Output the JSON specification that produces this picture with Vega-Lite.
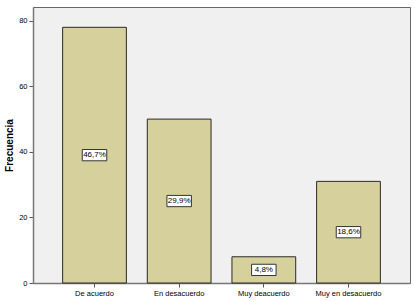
{
  "$schema": "https://vega.github.io/schema/vega-lite/v6.json",
  "autosize": "none",
  "width": 377,
  "height": 276,
  "padding": {"left": 33, "top": 7, "right": 5, "bottom": 18},
  "background": "#ffffff",
  "config": {
    "view": {"fill": "#F0F0F0", "stroke": "#666666", "strokeWidth": 1},
    "font": "Liberation Sans"
  },
  "data": {
    "values": [
      {"cat": "De acuerdo", "count": 78, "pct": "46,7%"},
      {"cat": "En desacuerdo", "count": 50, "pct": "29,9%"},
      {"cat": "Muy deacuerdo", "count": 8, "pct": "4,8%"},
      {"cat": "Muy en desacuerdo", "count": 31, "pct": "18,6%"}
    ]
  },
  "encoding": {
    "x": {
      "field": "cat", "type": "nominal", "sort": null,
      "scale": {"paddingInner": 0.247, "paddingOuter": 0.35},
      "axis": {
        "title": null, "labelAngle": 0, "labelFontSize": 7.5, "labelColor": "#000000",
        "domainColor": "#777777", "domainWidth": 1.5, "tickColor": "#555555", "tickSize": 4,
        "labelPadding": 2
      }
    }
  },
  "layer": [
    {
      "mark": {"type": "bar", "fill": "#D6D19C", "stroke": "#2a2a2a", "strokeWidth": 1},
      "encoding": {
        "y": {
          "field": "count", "type": "quantitative",
          "scale": {"domain": [0, 84.2], "nice": false},
          "axis": {
            "title": "Frecuencia", "titleFontSize": 10, "titleFontWeight": "bold", "titleColor": "#000000",
            "titlePadding": 4,
            "values": [0, 20, 40, 60, 80], "grid": false,
            "labelFontSize": 7.5, "labelColor": "#000000", "labelPadding": 2,
            "domainColor": "#777777", "domainWidth": 1.5, "tickColor": "#555555", "tickSize": 4
          }
        }
      }
    },
    {
      "transform": [{"calculate": "datum.count / 2", "as": "mid"}],
      "mark": {"type": "point", "shape": "M-1,-0.46H1V0.46H-1Z", "filled": true, "fill": "#ffffff", "stroke": "#333333", "strokeWidth": 1, "opacity": 1, "size": 600},
      "encoding": {
        "y": {"field": "mid", "type": "quantitative", "scale": {"domain": [0, 84.2], "nice": false}}
      }
    },
    {
      "transform": [{"calculate": "datum.count / 2", "as": "mid"}],
      "mark": {"type": "text", "fontSize": 8, "color": "#000000", "baseline": "middle", "align": "center"},
      "encoding": {
        "y": {"field": "mid", "type": "quantitative", "scale": {"domain": [0, 84.2], "nice": false}},
        "text": {"field": "pct"}
      }
    }
  ]
}
